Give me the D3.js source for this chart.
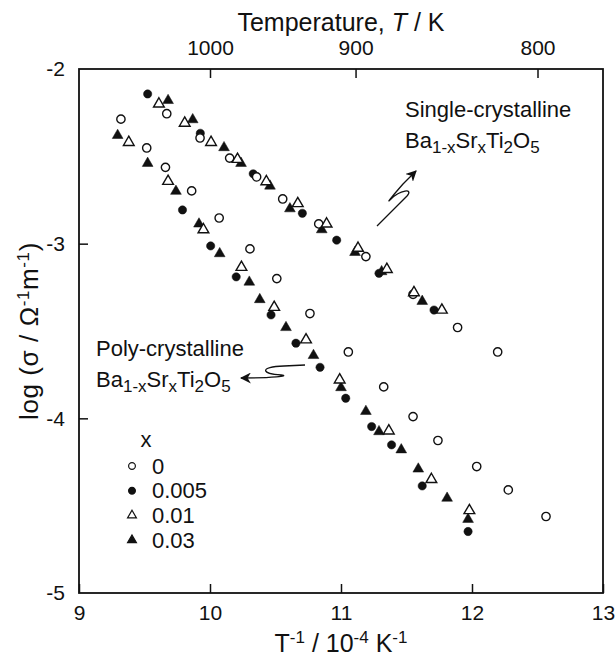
<!DOCTYPE html>
<html>
<head>
<meta charset="utf-8">
<script src="https://cdn.jsdelivr.net/npm/d3@7"></script>
<style>
  body { margin: 0; background: #fff; }
  text { font-family: "Liberation Sans", Arial, sans-serif; fill: #111; }
</style>
</head>
<body>
<div id="chart"></div>
<script>
// data: [1/T (1e-4 K^-1), log sigma]
// x = 0 (open circle)
let openCircle = [
  [9.67, -2.256], [9.924, -2.395], [10.15, -2.51], [10.356, -2.618], [10.555, -2.744],
  [10.83, -2.887], [11.19, -3.074], [11.55, -3.29], [11.89, -3.48], [12.196, -3.62],
  [9.32, -2.287], [9.517, -2.452], [9.66, -2.563], [9.86, -2.698], [10.07, -2.853],
  [10.305, -3.03], [10.51, -3.2], [10.763, -3.40], [11.056, -3.62], [11.326, -3.82],
  [11.55, -3.99], [11.74, -4.127], [12.036, -4.276], [12.277, -4.41], [12.565, -4.562]
];
// x = 0.005 (filled circle)
let filledCircle = [
  [9.524, -2.143], [9.926, -2.368], [10.33, -2.60], [10.705, -2.826], [10.967, -2.98],
  [11.29, -3.17], [11.71, -3.38],
  [9.79, -2.807], [10.005, -3.013], [10.20, -3.19], [10.466, -3.408], [10.656, -3.57],
  [10.84, -3.708], [11.036, -3.885], [11.234, -4.047], [11.386, -4.152], [11.62, -4.387],
  [11.97, -4.648]
];
// x = 0.01 (open triangle)
let openTriangle = [
  [9.61, -2.20], [9.807, -2.31], [10.008, -2.42], [10.21, -2.517], [10.43, -2.645],
  [10.67, -2.77], [10.89, -2.887], [11.13, -3.026], [11.35, -3.147], [11.557, -3.28],
  [11.77, -3.38],
  [9.38, -2.42], [9.68, -2.643], [9.95, -2.92], [10.24, -3.135], [10.49, -3.364],
  [10.733, -3.55], [10.99, -3.78], [11.365, -4.072], [11.69, -4.35], [11.98, -4.528]
];
// x = 0.03 (filled triangle)
let filledTriangle = [
  [9.68, -2.18], [9.868, -2.29], [10.107, -2.45], [10.237, -2.54], [10.458, -2.67],
  [10.61, -2.80], [10.853, -2.92], [11.107, -3.05], [11.31, -3.16], [11.62, -3.33],
  [9.295, -2.38], [9.524, -2.54], [9.74, -2.70], [9.916, -2.887], [10.074, -3.057],
  [10.30, -3.22], [10.38, -3.32], [10.58, -3.48], [10.79, -3.64], [11.0, -3.824],
  [11.19, -3.96], [11.29, -4.076], [11.46, -4.18], [11.59, -4.29], [11.81, -4.457],
  [11.97, -4.578]
];
let legendLabels = ["0", "0.005", "0.01", "0.03"];
let xTicks = [9, 10, 11, 12, 13];
let yTicks = [-2, -3, -4, -5];
let tempTicks = [1000, 900, 800];

let svgWidth = 616;
let svgHeight = 657;
let plot = { left: 79, right: 603, top: 69, bottom: 593 };

let svg = d3.select("#chart")
  .append("svg")
  .attr("width", svgWidth)
  .attr("height", svgHeight);

let xScale = d3.scaleLinear().domain([9, 13]).range([plot.left, plot.right]);
let yScale = d3.scaleLinear().domain([-5, -2]).range([plot.bottom, plot.top]);

// axes, ticks pointing inward, plain hyphen for minus
let bottomAxis = d3.axisBottom(xScale).tickValues(xTicks).tickSizeInner(-9).tickSizeOuter(0)
  .tickFormat(d => String(d)).tickPadding(12);
let leftAxis = d3.axisLeft(yScale).tickValues(yTicks).tickSizeInner(-9).tickSizeOuter(0)
  .tickFormat(d => "-" + Math.abs(d)).tickPadding(14);
let topAxis = d3.axisTop(xScale)
  .tickValues(tempTicks.map(t => 1e4 / t))
  .tickFormat((d, i) => tempTicks[i])
  .tickSizeInner(-9).tickSizeOuter(0).tickPadding(14);

function styleAxis(g) {
  g.select(".domain").remove();
  g.selectAll(".tick line").attr("stroke", "#111").attr("stroke-width", 1.5);
  g.selectAll(".tick text").style("font-size", "21px").attr("fill", "#111")
    .style("font-family", "'Liberation Sans', Arial, sans-serif");
}

svg.append("g").attr("transform", `translate(0, ${plot.bottom})`).call(bottomAxis).call(styleAxis);
let lg = svg.append("g").attr("transform", `translate(${plot.left}, 0)`).call(leftAxis).call(styleAxis);
lg.selectAll(".tick").filter(d => d === -2 || d === -5).select("line").remove();
svg.append("g").attr("transform", `translate(0, ${plot.top})`).call(topAxis).call(styleAxis);

// frame
svg.append("rect")
  .attr("x", plot.left).attr("y", plot.top)
  .attr("width", plot.right - plot.left).attr("height", plot.bottom - plot.top)
  .attr("fill", "none").attr("stroke", "#111").attr("stroke-width", 1.8);

// markers
let circ = d3.symbol().type(d3.symbolCircle).size(54);
let tri = d3.symbol().type(d3.symbolTriangle).size(50);

function drawSeries(data, sym, filled) {
  svg.append("g").selectAll("path")
    .data(data)
    .enter()
    .append("path")
    .attr("transform", d => `translate(${xScale(d[0])}, ${yScale(d[1])})`)
    .attr("d", sym)
    .attr("fill", filled ? "#111" : "#fff")
    .attr("stroke", "#111")
    .attr("stroke-width", filled ? 0.5 : 1.4);
}
drawSeries(filledCircle, circ, true);
drawSeries(filledTriangle, tri, true);
drawSeries(openCircle, circ, false);
drawSeries(openTriangle, tri, false);

// legend
svg.append("text").attr("x", 146).attr("y", 447).attr("text-anchor", "middle")
  .style("font-size", "22px").text("x");
let legSyms = [["c", false], ["c", true], ["t", false], ["t", true]];
let smallCirc = d3.symbol().type(d3.symbolCircle).size(36);
let smallTri = d3.symbol().type(d3.symbolTriangle).size(34);
legendLabels.forEach(function (lab, i) {
  let cy = 466 + i * 24.7;
  svg.append("path")
    .attr("transform", `translate(132, ${cy})`)
    .attr("d", legSyms[i][0] === "c" ? smallCirc : smallTri)
    .attr("fill", legSyms[i][1] ? "#111" : "#fff")
    .attr("stroke", "#111").attr("stroke-width", 1.2);
  svg.append("text").attr("x", 152).attr("y", cy + 7.5)
    .style("font-size", "22px").text(lab);
});

// axis titles
svg.append("text")
  .attr("x", (plot.left + plot.right) / 2).attr("y", 31)
  .attr("text-anchor", "middle").style("font-size", "25px")
  .html('Temperature, <tspan font-style="italic">T</tspan> / K');

function supText(t, parts, big, small, up) {
  parts.forEach(function (p, i) {
    let prev = i > 0 ? parts[i - 1][1] : 0;
    let dy = (p[1] ? -up : 0) - (prev ? -up : 0);
    t.append("tspan").attr("dy", dy).style("font-size", p[1] ? small : big).text(p[0]);
  });
}

let xt = svg.append("text")
  .attr("x", (plot.left + plot.right) / 2).attr("y", 652)
  .attr("text-anchor", "middle").style("font-size", "25px");
supText(xt, [["T", 0], ["-1", 1], [" / 10", 0], ["-4", 1], [" K", 0], ["-1", 1]], "25px", "17px", 9);

let yt = svg.append("text")
  .attr("transform", `translate(38, ${(plot.top + plot.bottom) / 2}) rotate(-90)`)
  .attr("text-anchor", "middle").style("font-size", "26px").style("letter-spacing", "0.6px");
supText(yt, [["log (σ / Ω", 0], ["-1", 1], ["m", 0], ["-1", 1], [")", 0]], "26px", "17px", 9);

// formula label with subscripts
function formula(x, y) {
  let t = svg.append("text").attr("x", x).attr("y", y).style("font-size", "22px");
  let parts = [["Ba", 0], ["1-x", 1], ["Sr", 0], ["x", 1], ["Ti", 0], ["2", 1], ["O", 0], ["5", 1]];
  parts.forEach(function (p, i) {
    let dy = i === 0 ? 0 : (p[1] ? 5 : -5);
    t.append("tspan").attr("dy", dy).style("font-size", p[1] ? "17px" : "22px").text(p[0]);
  });
}

svg.append("text").attr("x", 405).attr("y", 117).style("font-size", "22px").text("Single-crystalline");
formula(405, 148);
svg.append("text").attr("x", 96).attr("y", 356).style("font-size", "22px").text("Poly-crystalline");
formula(96, 387);

// arrows
let defs = svg.append("defs");
defs.append("marker").attr("id", "ah").attr("viewBox", "0 0 10 10")
  .attr("refX", 9).attr("refY", 5).attr("markerWidth", 11).attr("markerHeight", 11)
  .attr("markerUnits", "userSpaceOnUse").attr("orient", "auto")
  .append("path").attr("d", "M0,0 L10,5 L0,10 L3,5 Z").attr("fill", "#111");

svg.append("path")
  .attr("d", "M377,226 L407,196 C414,188 400,190 391,199 C384,206 396,192 403,184 L416,171")
  .attr("fill", "none").attr("stroke", "#111").attr("stroke-width", 1.3)
  .attr("marker-end", "url(#ah)");

svg.append("path")
  .attr("d", "M305,365 L284,366 C258,367 262,374 281,375 C291,376 272,378 241,378")
  .attr("fill", "none").attr("stroke", "#111").attr("stroke-width", 1.3)
  .attr("marker-end", "url(#ah)");
</script>
</body>
</html>
